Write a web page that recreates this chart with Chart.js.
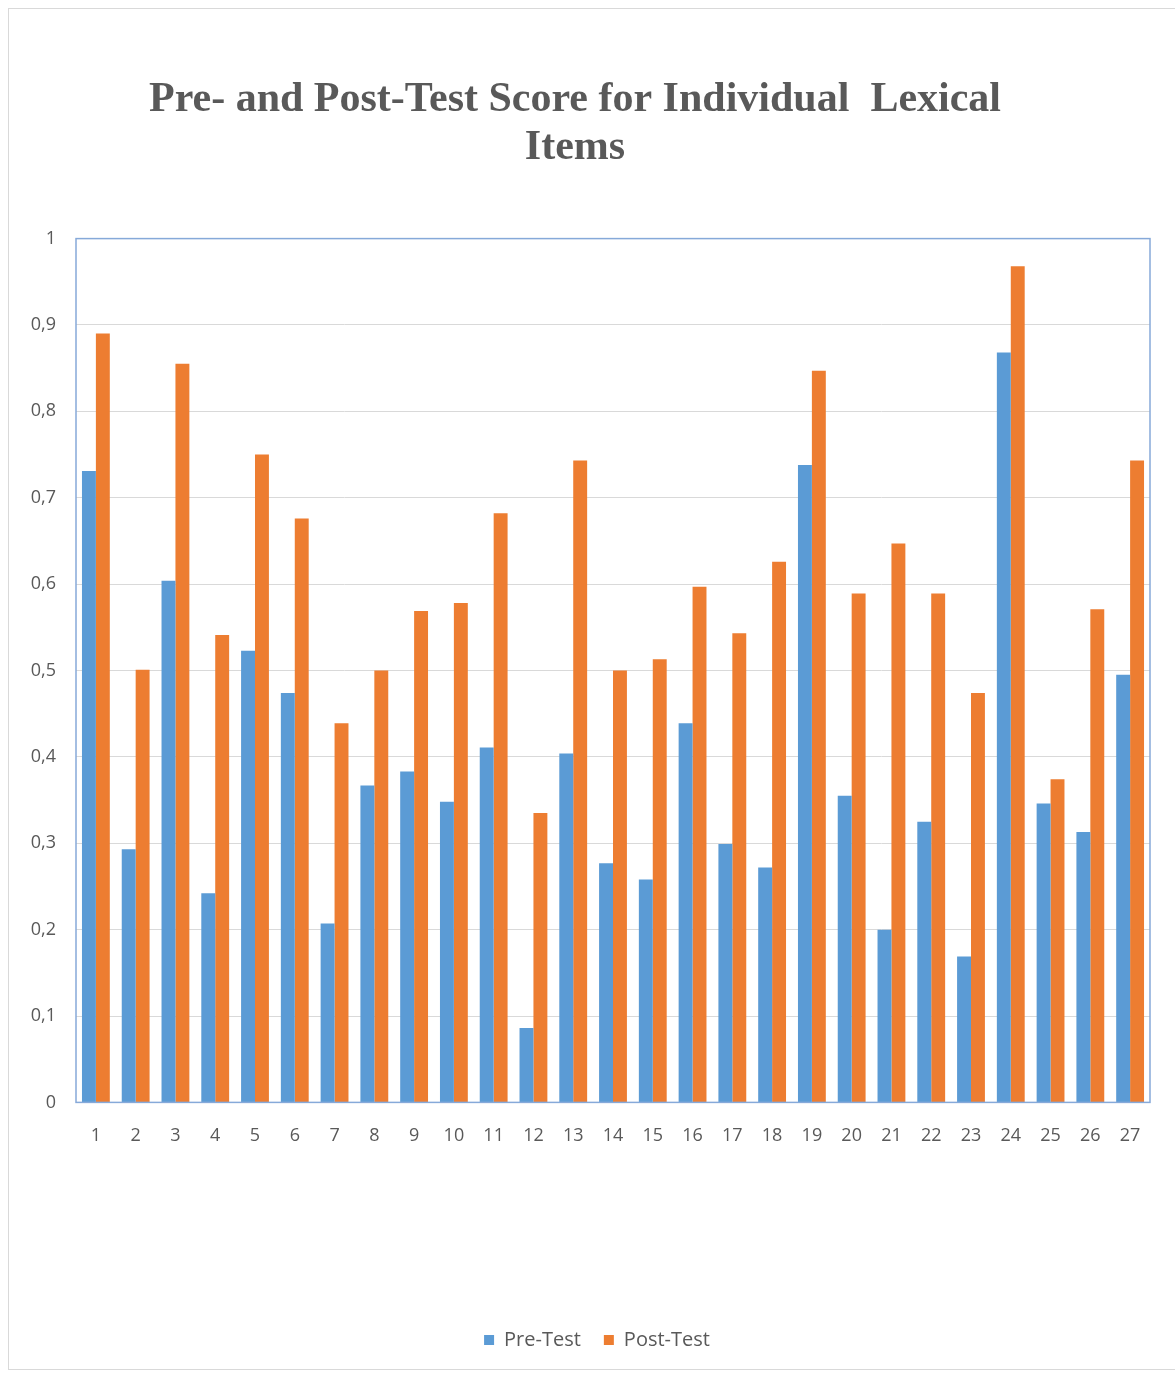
<!DOCTYPE html>
<html>
<head>
<meta charset="utf-8">
<script src="https://cdn.jsdelivr.net/npm/chart.js@4"></script>
<style>
  html, body { margin: 0; padding: 0; background: #fff; overflow: hidden; }
  #wrap { position: relative; width: 1175px; height: 1374px; }
  #frame { position: absolute; left: 8px; top: 8px; width: 1190px; height: 1362px; border: 1px solid #d9d9d9; box-sizing: border-box; }
  canvas { position: absolute; left: 0; top: 0; }
</style>
</head>
<body>
<div id="wrap">
  <div id="frame"></div>
  <canvas id="scoreChart" width="1175" height="1374"></canvas>
</div>
<script>
// items 1..27
const items = ['1','2','3','4','5','6','7','8','9','10','11','12','13','14','15','16','17','18','19','20','21','22','23','24','25','26','27'];

// values
const preTest = [0.731, 0.293, 0.604, 0.242, 0.523, 0.474, 0.207, 0.367, 0.383, 0.348, 0.411, 0.086, 0.404, 0.277,
                 0.258, 0.439, 0.299, 0.272, 0.738, 0.355, 0.200, 0.325, 0.169, 0.868, 0.346, 0.313, 0.495];
const postTest = [0.890, 0.501, 0.855, 0.541, 0.750, 0.676, 0.439, 0.500, 0.569, 0.578, 0.682, 0.335, 0.743, 0.500,
                  0.513, 0.597, 0.543, 0.626, 0.847, 0.589, 0.647, 0.589, 0.474, 0.968, 0.374, 0.571, 0.743];

// y tick labels (comma decimals)
const yTickLabels = ['0', '0,1', '0,2', '0,3', '0,4', '0,5', '0,6', '0,7', '0,8', '0,9', '1'];

const textGray = '#595959';

// blue frame round the plot area, legend nudged right like the original
const plotFrame = {
    id: 'plotFrame',
    afterLayout(chart) {
        if (chart.legend) chart.legend.left += 44;
    },
    afterDatasetsDraw(chart) {
        const a = chart.chartArea;
        const c = chart.ctx;
        c.save();
        c.strokeStyle = '#86a9d9';
        c.lineWidth = 1.5;
        c.strokeRect(a.left, a.top, a.right - a.left, a.bottom - a.top);
        c.restore();
    }
};

new Chart(document.getElementById('scoreChart'), {
    type: 'bar',
    data: {
        labels: items,
        datasets: [
            { label: 'Pre-Test', data: preTest, backgroundColor: '#5b9bd5' },
            { label: 'Post-Test', data: postTest, backgroundColor: '#ed7d31' }
        ]
    },
    options: {
        responsive: false,
        animation: false,
        devicePixelRatio: 1,
        layout: { padding: { left: 0, right: 25, top: 0, bottom: 14 } },
        datasets: { bar: { categoryPercentage: 0.7, barPercentage: 1.0 } },
        plugins: {
            title: {
                display: true,
                text: ['Pre- and Post-Test Score for Individual  Lexical', 'Items'],
                color: textGray,
                font: { family: "'Liberation Serif', serif", size: 42, weight: 'bold', lineHeight: 1.15 },
                padding: { top: 76, bottom: 66 }
            },
            legend: {
                position: 'bottom',
                labels: {
                    color: textGray,
                    boxWidth: 10,
                    boxHeight: 10,
                    padding: 23,
                    font: { family: "'Open Sans', sans-serif", size: 20 }
                }
            },
            tooltip: { enabled: false }
        },
        scales: {
            x: {
                afterFit(scale) { scale.height += 145; },
                grid: { display: false },
                border: { display: false },
                ticks: { color: textGray, font: { family: "'Open Sans', sans-serif", size: 18 }, maxRotation: 0, padding: 15 }
            },
            y: {
                min: 0,
                max: 1,
                afterFit(scale) { scale.width = 76; },
                grid: { color: '#d9d9d9', drawTicks: false },
                border: { display: false },
                ticks: {
                    stepSize: 0.1,
                    color: textGray,
                    padding: 20,
                    font: { family: "'Open Sans', sans-serif", size: 18 },
                    callback: (v, i) => yTickLabels[i]
                }
            }
        }
    },
    plugins: [plotFrame]
});
</script>
</body>
</html>
